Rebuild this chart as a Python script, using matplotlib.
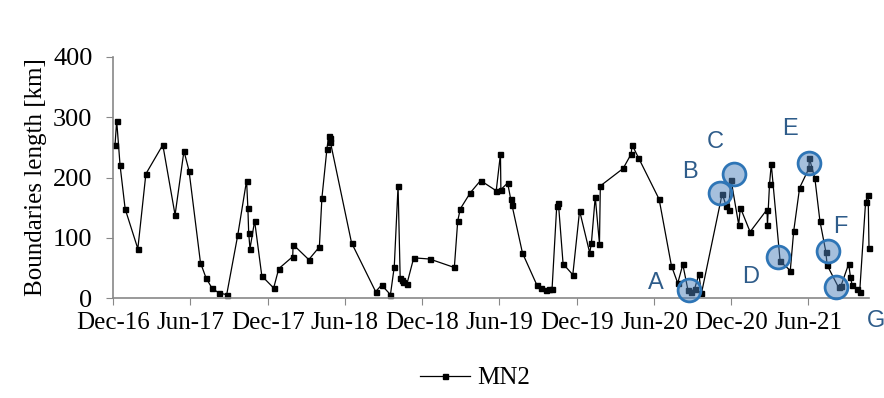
import pandas as pd
import matplotlib.pyplot as plt
import matplotlib.dates as mdates

plt.rcParams['font.family'] = ['Liberation Serif', 'DejaVu Serif']

# MN2 boundaries length time series
dates = [
    "2016-12-05", "2016-12-09", "2016-12-17", "2016-12-29", "2017-01-28",
    "2017-02-16", "2017-03-28", "2017-04-26", "2017-05-17", "2017-05-29",
    "2017-06-25", "2017-07-08", "2017-07-22", "2017-08-07", "2017-08-26",
    "2017-09-21", "2017-10-12", "2017-10-15", "2017-10-17", "2017-10-20",
    "2017-10-31", "2017-11-17", "2017-12-15", "2017-12-27", "2018-01-29",
    "2018-01-30", "2018-03-08", "2018-04-02", "2018-04-08", "2018-04-20",
    "2018-04-24", "2018-04-27", "2018-04-28", "2018-06-17", "2018-08-13",
    "2018-08-27", "2018-09-17", "2018-09-26", "2018-10-05", "2018-10-10",
    "2018-10-14", "2018-10-17", "2018-10-26", "2018-11-11", "2018-12-19",
    "2019-02-15", "2019-02-23", "2019-03-01", "2019-03-25", "2019-04-18",
    "2019-05-25", "2019-06-04", "2019-06-05", "2019-06-21", "2019-06-28",
    "2019-07-01", "2019-07-26", "2019-08-29", "2019-09-08", "2019-09-19",
    "2019-09-26", "2019-10-04", "2019-10-15", "2019-10-19", "2019-10-30",
    "2019-11-22", "2019-12-08", "2020-01-01", "2020-01-05", "2020-01-14",
    "2020-01-24", "2020-01-26", "2020-03-20", "2020-04-08", "2020-04-10",
    "2020-04-25", "2020-06-13", "2020-07-12", "2020-07-27", "2020-08-08",
    "2020-08-20", "2020-08-28", "2020-09-05", "2020-09-15", "2020-09-21",
    "2020-11-09", "2020-11-19", "2020-11-24", "2020-11-30", "2020-12-18",
    "2020-12-22", "2021-01-14", "2021-02-23", "2021-02-24", "2021-03-01",
    "2021-03-05", "2021-03-26", "2021-04-19", "2021-04-27", "2021-05-11",
    "2021-06-02", "2021-06-03", "2021-06-16", "2021-06-28", "2021-07-12",
    "2021-07-15", "2021-08-11", "2021-08-17", "2021-09-04", "2021-09-08",
    "2021-09-12", "2021-09-23", "2021-09-30", "2021-10-14", "2021-10-20",
    "2021-10-22",
]
mn2 = [
    253, 294, 220, 148, 82,
    206, 254, 138, 244, 211,
    59, 34, 17, 9, 6,
    104, 195, 150, 108, 82,
    128, 37, 17, 49, 69,
    89, 64, 85, 166, 248,
    269, 266, 259, 92, 11,
    22, 6, 52, 186, 34,
    30, 27, 24, 67, 65,
    51, 128, 148, 175, 195,
    178, 239, 180, 191, 165,
    155, 75, 22, 17, 13,
    16, 16, 153, 157, 57,
    39, 145, 75, 92, 168,
    90, 186, 215, 239, 254,
    233, 164, 54, 25, 56,
    14, 11, 16, 40, 8,
    173, 152, 147, 196, 122,
    150, 110, 147, 121, 190,
    222, 61, 46, 111, 183,
    215, 232, 199, 128, 77,
    55, 18, 21, 57, 36,
    22, 15, 11, 160, 171,
    83,
]

# highlighted events
event_labels = ["A", "B", "C", "D", "E", "F", "G"]
event_dates = ["2020-08-22", "2020-11-03", "2020-12-08", "2021-03-22",
               "2021-06-02", "2021-07-16", "2021-08-05"]
event_vals = [14, 174, 206, 69, 224, 78, 19]
# letter positions (figure pixels)
letter_xy = [(656, 283), (690, 172), (715, 142), (751, 277),
             (790, 129), (840, 227), (876, 321)]

x = pd.to_datetime(dates)
ex = pd.to_datetime(event_dates)

fig = plt.figure(figsize=(8.84, 3.98), dpi=100)
ax = fig.add_axes([113.3 / 884, 1 - 298.3 / 398, (869 - 113.3) / 884, (298.3 - 56.7) / 398])

ax.plot(x, mn2, color='black', lw=0.9, marker='s', markersize=3.6,
        label='MN2', clip_on=False)
ax.scatter(ex, event_vals, s=270, facecolor=(0.31, 0.51, 0.74, 0.5),
           edgecolor='#2e75b6', linewidth=2.0, zorder=5, clip_on=False)

ax.set_xlim(pd.Timestamp("2016-12-01"), x[-1])
ax.set_ylim(0, 400)
ax.set_yticks([0, 100, 200, 300, 400])
ax.xaxis.set_major_locator(mdates.MonthLocator(bymonth=[6, 12]))
ax.xaxis.set_major_formatter(mdates.DateFormatter('%b-%y'))

ax.set_ylabel('Boundaries length [km]', fontsize=18)
ax.tick_params(axis='y', labelsize=19, length=5, color='#888888', pad=10)
ax.tick_params(axis='x', labelsize=18, length=5, color='#888888', pad=5)
for side in ['top', 'right']:
    ax.spines[side].set_visible(False)
for side in ['left', 'bottom']:
    ax.spines[side].set_color('#888888')
    ax.spines[side].set_linewidth(1.2)

for lab, (px, py) in zip(event_labels, letter_xy):
    fig.text(px / 884, 1 - py / 398, lab, fontsize=17, color='#2e5c8a',
             family='Liberation Sans', ha='center', va='center')

fig.legend(loc='center', bbox_to_anchor=(0.537, 0.05), frameon=False,
           fontsize=18, handlelength=2.0, handletextpad=0.3)

fig.savefig('out.png', dpi=100)
